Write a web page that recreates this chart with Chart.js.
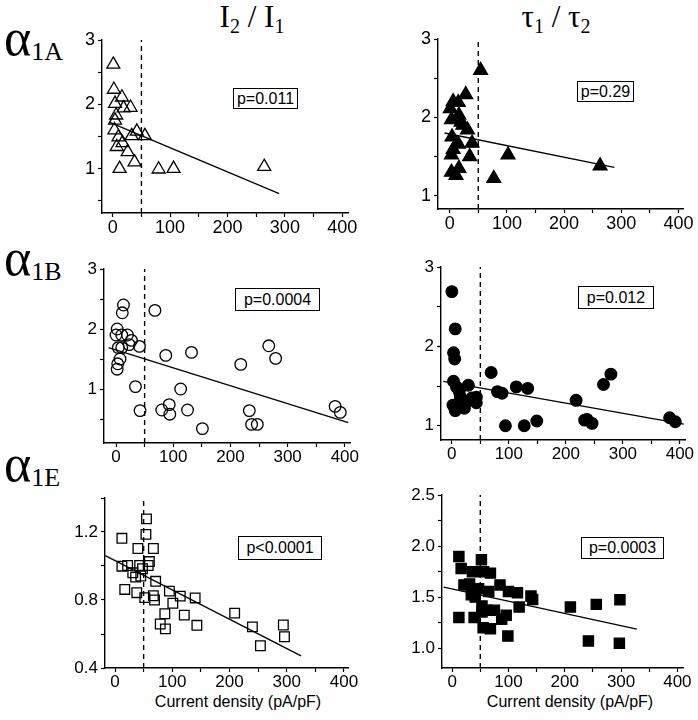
<!DOCTYPE html>
<html>
<head>
<meta charset="utf-8">
<script src="https://cdn.jsdelivr.net/npm/chart.js@4.4.1/dist/chart.umd.min.js"></script>
<style>
  body { margin: 0; background: #fff; }
  #wrap { position: relative; width: 698px; height: 720px; overflow: hidden; font-family: "Liberation Sans", Arial, sans-serif; color: #000; }
  canvas { position: absolute; }
  .pbox { position: absolute; border: 1.3px solid #000; box-sizing: border-box; display: flex; align-items: center; justify-content: center; background: #fff; }
  .alpha { position: absolute; font-family: "Liberation Serif", "Times New Roman", serif; font-size: 52px; line-height: 52px; white-space: nowrap; }
  .alpha span { font-size: 26px; vertical-align: -5px; }
  .head { position: absolute; font-family: "Liberation Serif", "Times New Roman", serif; font-size: 31px; line-height: 31px; white-space: nowrap; transform: translateX(-50%); }
  .head span { font-size: 20px; vertical-align: -6px; }
  .xtitle { position: absolute; font-size: 16px; line-height: 16px; white-space: nowrap; transform: translateX(-50%); }
</style>
</head>
<body>
<div id="wrap">
  <div class="alpha" style="left:4px;top:12px">α<span>1A</span></div>
  <div class="alpha" style="left:4px;top:232px">α<span>1B</span></div>
  <div class="alpha" style="left:4px;top:438px">α<span>1E</span></div>
  <div class="head" style="left:252px;top:1px">I<span>2</span> / I<span>1</span></div>
  <div class="head" style="left:556px;top:1px">τ<span>1</span> / τ<span>2</span></div>
  <div class="xtitle" style="left:238px;top:694px">Current density (pA/pF)</div>
  <div class="xtitle" style="left:570px;top:694px">Current density (pA/pF)</div>
</div>
<script>
// α1A, I2/I1
const a1aRatioX = [1, 2, 16, 4, 19, 31, 6, 4, 3, 42, 56, 33, 10, 17, 7, 26, 38, 12, 80, 106, 264];
const a1aRatioY = [2.62, 2.23, 2.11, 2.01, 1.94, 1.95, 1.83, 1.75, 1.60, 1.58, 1.51, 1.51, 1.49, 1.40, 1.34, 1.26, 1.10, 1.00, 0.99, 1.00, 1.03];
const a1aRatioFitX = [-5, 290];
const a1aRatioFitY = [1.72, 0.61];

// α1A, tau1/tau2
const a1aTauX = [54, 28, 6, 15, 1, 16, 3, 20, 23, 31, 4, 15, 39, 6, 3, 35, 102, 16, 3, 11, 77, 263];
const a1aTauY = [2.60, 2.29, 2.20, 2.19, 2.11, 2.03, 1.97, 1.94, 1.90, 1.84, 1.75, 1.66, 1.67, 1.59, 1.52, 1.50, 1.52, 1.35, 1.30, 1.26, 1.22, 1.38];
const a1aTauFitX = [-9, 288];
const a1aTauFitY = [1.80, 1.36];

// α1B, I2/I1
const a1bRatioX = [13, 11, 68, 2, 0, 10, 20, 27, 23, 4, 10, 41, 7, 3, 2, 34, 42, 87, 132, 113, 80, 93, 94, 125, 151, 218, 267, 279, 233, 237, 247, 383, 392];
const a1bRatioY = [2.40, 2.27, 2.31, 2.00, 1.90, 1.90, 1.90, 1.81, 1.74, 1.69, 1.69, 1.71, 1.50, 1.42, 1.33, 1.04, 0.64, 1.56, 1.61, 1.00, 0.65, 0.74, 0.58, 0.65, 0.34, 1.41, 1.72, 1.51, 0.64, 0.41, 0.41, 0.71, 0.61];
const a1bRatioFitX = [-13, 406];
const a1bRatioFitY = [1.69, 0.44];

// α1B, tau1/tau2
const a1bTauX = [0, 6, 3, 5, 3, 8, 29, 13, 15, 2, 6, 12, 22, 26, 35, 43, 43, 69, 80, 88, 94, 113, 127, 133, 149, 218, 233, 237, 246, 266, 279, 382, 392];
const a1bTauY = [2.69, 2.22, 1.92, 1.84, 1.56, 1.49, 1.51, 1.43, 1.36, 1.26, 1.19, 1.26, 1.22, 1.30, 1.35, 1.36, 1.29, 1.67, 1.43, 1.41, 1.00, 1.49, 1.00, 1.47, 1.06, 1.32, 1.07, 1.08, 1.03, 1.52, 1.65, 1.10, 1.05];
const a1bTauFitX = [-15, 407];
const a1bTauFitY = [1.56, 1.02];

// α1E, I2/I1
const a1eRatioX = [12, 55, 54, 40, 67, 60, 58, 12, 22, 43, 31, 48, 36, 45, 71, 17, 38, 52, 67, 69, 95, 101, 114, 140, 87, 121, 79, 88, 143, 209, 240, 254, 294, 296];
const a1eRatioY = [1.163, 1.277, 1.186, 1.103, 1.103, 1.026, 1.003, 0.999, 1.003, 1.003, 0.96, 0.984, 0.935, 0.941, 0.91, 0.862, 0.843, 0.814, 0.825, 0.80, 0.852, 0.781, 0.823, 0.812, 0.719, 0.711, 0.659, 0.63, 0.651, 0.723, 0.642, 0.531, 0.653, 0.584];
const a1eRatioFitX = [-17, 325];
const a1eRatioFitY = [1.061, 0.471];

// α1E, tau1/tau2
const a1eTauX = [12, 52, 16, 36, 56, 68, 21, 31, 47, 85, 100, 116, 65, 34, 41, 140, 143, 53, 62, 75, 53, 88, 96, 119, 12, 39, 55, 68, 99, 210, 256, 298, 242, 297];
const a1eTauY = [1.897, 1.865, 1.781, 1.748, 1.748, 1.735, 1.619, 1.629, 1.581, 1.619, 1.555, 1.542, 1.555, 1.523, 1.50, 1.51, 1.477, 1.413, 1.371, 1.371, 1.355, 1.284, 1.323, 1.403, 1.30, 1.30, 1.20, 1.19, 1.119, 1.403, 1.429, 1.474, 1.071, 1.048];
const a1eTauFitX = [-15, 328];
const a1eTauFitY = [1.597, 1.187];

// axis ticks
const xTickVals = [0, 50, 100, 150, 200, 250, 300, 350, 400];
const xTickLabels = ['0', '', '100', '', '200', '', '300', '', '400'];
const yTickValsA = [0.5, 1, 1.5, 2, 2.5, 3];
const yTickLabelsA = ['', '1', '', '2', '', '3'];
const yTickValsB = [1, 1.5, 2, 2.5, 3];
const yTickLabelsB = ['1', '', '2', '', '3'];
const yTickValsE1 = [0.4, 0.6, 0.8, 1.0, 1.2, 1.4];
const yTickLabelsE1 = ['0.4', '', '0.8', '', '1.2', ''];
const yTickValsE2 = [1.0, 1.25, 1.5, 1.75, 2.0, 2.25, 2.5];
const yTickLabelsE2 = ['1.0', '', '1.5', '', '2.0', '', '2.5'];

const cutoff = 50; // dashed line
const pValues = ['p=0.011', 'p=0.29', 'p=0.0004', 'p=0.012', 'p<0.0001', 'p=0.0003'];

const wrap = document.getElementById('wrap');
const FONT = '"Liberation Sans", Arial, sans-serif';

function pts(xs, ys) {
    return xs.map((v, i) => ({ x: v, y: ys[i] }));
}

function makePanel(p) {
    const padL = 46, padT = 16, padR = 28, padB = 38;
    const [l, t, r, b] = p.area;
    const w = Math.round(r - l + padL + padR);
    const h = Math.round(b - t + padT + padB);
    const cv = document.createElement('canvas');
    cv.width = w;
    cv.height = h;
    cv.style.left = (l - padL) + 'px';
    cv.style.top = (t - padT) + 'px';
    cv.style.width = w + 'px';
    cv.style.height = h + 'px';
    wrap.appendChild(cv);

    new Chart(cv, {
        type: 'scatter',
        data: {
            datasets: [
                {
                    data: pts(p.x, p.y),
                    pointStyle: p.style,
                    pointRadius: p.radius,
                    backgroundColor: p.filled ? '#000' : 'rgba(0,0,0,0)',
                    borderColor: '#000',
                    borderWidth: 1.3,
                    order: 1
                },
                {
                    data: pts(p.fitX, p.fitY),
                    showLine: true,
                    borderColor: '#000',
                    borderWidth: 1.3,
                    pointRadius: 0,
                    order: 2
                },
                {
                    data: [{ x: cutoff, y: p.yMin }, { x: cutoff, y: p.yMax }],
                    showLine: true,
                    borderColor: '#000',
                    borderWidth: 1.4,
                    borderDash: [5, 4],
                    pointRadius: 0,
                    order: 3
                }
            ]
        },
        options: {
            responsive: false,
            animation: false,
            events: [],
            layout: { padding: { top: padT, right: padR, left: 0, bottom: 0 } },
            plugins: { legend: { display: false }, tooltip: { enabled: false } },
            scales: {
                x: {
                    type: 'linear',
                    min: p.xMin,
                    max: p.xMax,
                    afterFit: s => { s.height = padB; },
                    afterBuildTicks: s => { s.ticks = xTickVals.map(v => ({ value: v })); },
                    ticks: {
                        autoSkip: false,
                        maxRotation: 0,
                        padding: 0,
                        color: '#000',
                        font: { family: FONT, size: p.fontSize },
                        callback: (v) => xTickLabels[xTickVals.indexOf(v)]
                    },
                    grid: { drawOnChartArea: false, tickLength: 4, tickColor: '#000', tickWidth: 1.2 },
                    border: { color: '#000', width: 1.4 }
                },
                y: {
                    type: 'linear',
                    min: p.yMin,
                    max: p.yMax,
                    afterFit: s => { s.width = padL; },
                    afterBuildTicks: s => { s.ticks = p.yTicks.map(v => ({ value: v })); },
                    ticks: {
                        autoSkip: false,
                        padding: 3,
                        color: '#000',
                        font: { family: FONT, size: p.fontSize },
                        callback: (v) => p.yLabels[p.yTicks.indexOf(v)]
                    },
                    grid: { drawOnChartArea: false, tickLength: 4, tickColor: '#000', tickWidth: 1.2 },
                    border: { color: '#000', width: 1.4 }
                }
            }
        }
    });

    const box = document.createElement('div');
    box.className = 'pbox';
    box.style.left = p.box[0] + 'px';
    box.style.top = p.box[1] + 'px';
    box.style.width = p.box[2] + 'px';
    box.style.height = p.box[3] + 'px';
    box.style.fontSize = p.boxFont + 'px';
    box.textContent = p.pText;
    wrap.appendChild(box);
}

const panels = [
    { x: a1aRatioX, y: a1aRatioY, fitX: a1aRatioFitX, fitY: a1aRatioFitY, style: 'triangle', radius: 7.5, filled: false,
      area: [102, 39.5, 348, 212], xMin: -18.7, xMax: 410, yMin: 0.31, yMax: 3, yTicks: yTickValsA, yLabels: yTickLabelsA,
      fontSize: 18, pText: pValues[0], box: [233, 88, 65, 21], boxFont: 16 },
    { x: a1aTauX, y: a1aTauY, fitX: a1aTauFitX, fitY: a1aTauFitY, style: 'triangle', radius: 8, filled: true,
      area: [438, 39, 683, 209], xMin: -20.5, xMax: 408, yMin: 0.83, yMax: 3, yTicks: yTickValsB, yLabels: yTickLabelsB,
      fontSize: 18, pText: pValues[1], box: [577, 81, 57, 21], boxFont: 16 },
    { x: a1bRatioX, y: a1bRatioY, fitX: a1bRatioFitX, fitY: a1bRatioFitY, style: 'circle', radius: 5.8, filled: false,
      area: [104, 269, 350, 443], xMin: -21, xMax: 409, yMin: 0.1, yMax: 3, yTicks: yTickValsA, yLabels: yTickLabelsA,
      fontSize: 17, pText: pValues[2], box: [235, 288, 85, 23], boxFont: 16 },
    { x: a1bTauX, y: a1bTauY, fitX: a1bTauFitX, fitY: a1bTauFitY, style: 'circle', radius: 5.8, filled: true,
      area: [441, 267, 685, 440], xMin: -19, xMax: 409, yMin: 0.82, yMax: 3, yTicks: yTickValsB, yLabels: yTickLabelsB,
      fontSize: 17, pText: pValues[3], box: [578, 286, 76, 23], boxFont: 16 },
    { x: a1eRatioX, y: a1eRatioY, fitX: a1eRatioFitX, fitY: a1eRatioFitY, style: 'rect', radius: 6.8, filled: false,
      area: [105, 498, 348, 668], xMin: -17.5, xMax: 407, yMin: 0.4, yMax: 1.4, yTicks: yTickValsE1, yLabels: yTickLabelsE1,
      fontSize: 17, pText: pValues[4], box: [238, 536, 84, 24], boxFont: 16 },
    { x: a1eTauX, y: a1eTauY, fitX: a1eTauFitX, fitY: a1eTauFitY, style: 'rect', radius: 7.2, filled: true,
      area: [442, 495, 683, 668], xMin: -18, xMax: 410, yMin: 0.806, yMax: 2.5, yTicks: yTickValsE2, yLabels: yTickLabelsE2,
      fontSize: 17, pText: pValues[5], box: [581, 537, 83, 22], boxFont: 16 }
];

panels.forEach(makePanel);
</script>
</body>
</html>
